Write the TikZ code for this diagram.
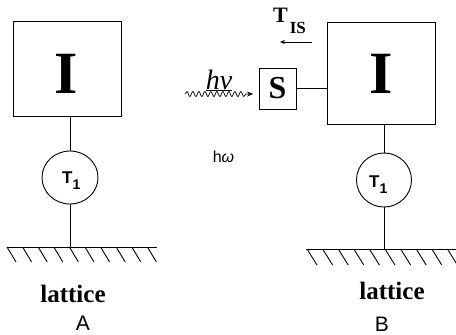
\documentclass[tikz,border=0pt]{standalone}
\usepackage{fontspec}
\setmainfont{Liberation Serif}
\setsansfont{Liberation Sans}
\usetikzlibrary{shapes.geometric,arrows.meta,decorations.pathmorphing}
\begin{document}
\begin{tikzpicture}[x=1pt,y=-1pt,
  box/.style={draw,line width=1pt,minimum width=108pt,inner sep=0pt},
  bigI/.style={font=\fontsize{60}{60}\selectfont\bfseries,inner sep=0pt,anchor=base},
  oval/.style={draw,ellipse,line width=0.9pt,inner sep=0pt},
  tlabel/.style={font=\fontsize{17}{17}\selectfont\sffamily\bfseries,inner sep=0pt,anchor=base west},
  lat/.style={font=\fontsize{25}{25}\selectfont\bfseries,inner sep=0pt,anchor=base},
  captxt/.style={font=\fontsize{21}{21}\selectfont\sffamily,inner sep=0pt,anchor=base},
  conn/.style={line width=0.9pt},
]
\useasboundingbox (0,0) rectangle (456,335);

% ---------------- A ----------------
\node[box,minimum height=95pt] (boxA) at (67,68.5) {};
\node[bigI] (IA) at (66.5,93) {I};
\node[oval,minimum width=56pt,minimum height=53pt] (circA) at (70,177.5) {};
\node[tlabel] (T1A) at (62,183) {T\raisebox{-6.5pt}{\fontsize{14}{14}\selectfont 1}};
\coordinate (gA) at (70,247);
\draw[conn] (circA.north) -- (circA.north |- boxA.south);
\draw[conn] (circA.south) -- (gA);
\draw[conn] (7,247) -- (157,247);
\foreach \k in {0,...,9} \draw[conn] ({7+15.6*\k},247) -- ++(9,15);
\node[lat] (latA) at (73,302) {lattice};
\node[captxt] (capA) at (83,330) {A};

% ---------------- middle ----------------
\node[draw,line width=1pt,minimum width=37pt,minimum height=41pt,inner sep=0pt,
      font=\fontsize{32}{32}\selectfont\bfseries] (S) at (277.5,88.5) {S};
\coordinate (hvs) at (185,94);
\coordinate (hve) at (253,94);
\draw[line width=0.7pt,-{Stealth[length=6pt,width=5pt]},decorate,
      decoration={snake,amplitude=2.5pt,segment length=6pt,post length=5pt}] (hvs) -- (hve);
\node[font=\fontsize{28}{28}\selectfont\itshape,inner sep=0pt,anchor=base] (hv) at (219,89) {\underline{hv}};
\node[font=\fontsize{16}{16}\selectfont\sffamily,inner sep=0pt,anchor=base] (hw) at (223.5,162) {h\textit{ω}};
\node[font=\fontsize{22}{22}\selectfont\bfseries,anchor=base west,inner sep=0pt] (tis) at (273,22)
  {T\hspace{2pt}\raisebox{-11pt}{\fontsize{17}{17}\selectfont IS}};
\coordinate (ta) at (312,42);
\coordinate (tb) at (280,42);
\draw[conn,-{Stealth[length=5pt,width=4pt]}] (ta) -- (tb);

% ---------------- B ----------------
\node[box,minimum height=102pt] (boxB) at (381,73) {};
\node[bigI] (IB) at (381.5,93) {I};
\draw[conn] (S.east) -- (S.east -| boxB.west);
\node[oval,minimum width=55pt,minimum height=54pt] (circB) at (384,180) {};
\node[tlabel] (T1B) at (369,187) {T\raisebox{-6.5pt}{\fontsize{14}{14}\selectfont 1}};
\coordinate (gB) at (384,249);
\draw[conn] (circB.north) -- (circB.north |- boxB.south);
\draw[conn] (circB.south) -- (gB);
\draw[conn] (306,249) -- (456,249);
\foreach \k in {0,...,9} \draw[conn] ({307+15.6*\k},249) -- ++(10,16);
\node[lat] (latB) at (392,299) {lattice};
\node[captxt] (capB) at (382,331) {B};
\end{tikzpicture}
\end{document}
